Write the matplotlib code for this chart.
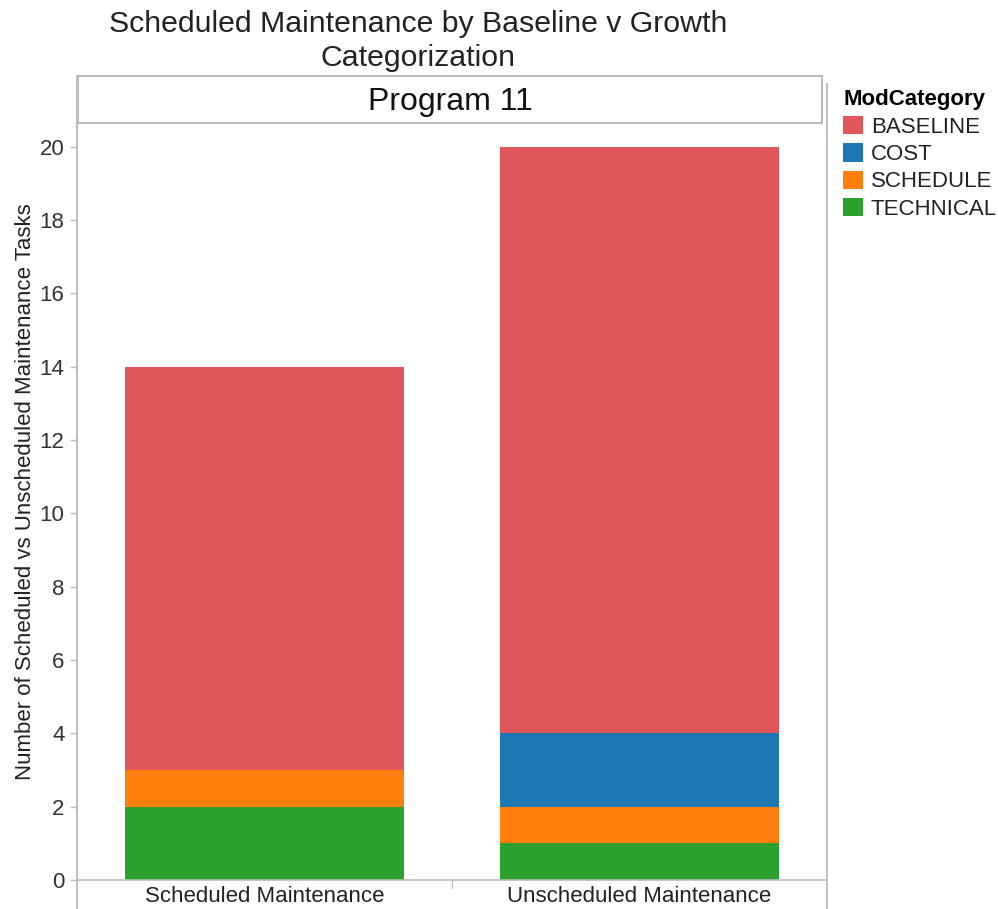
import matplotlib
matplotlib.use("Agg")
import matplotlib.pyplot as plt
from matplotlib.lines import Line2D
from matplotlib.patches import Patch

plt.rcParams['font.family'] = ['Liberation Sans', 'DejaVu Sans']

categories = ["Scheduled Maintenance", "Unscheduled Maintenance"]
mod_categories = ["BASELINE", "COST", "SCHEDULE", "TECHNICAL"]
stack_order = ["TECHNICAL", "SCHEDULE", "COST", "BASELINE"]
values = {
    "BASELINE": [11, 16],
    "COST": [0, 2],
    "SCHEDULE": [1, 1],
    "TECHNICAL": [2, 1],
}
colors = {
    "BASELINE": "#e15759",
    "COST": "#1f77b4",
    "SCHEDULE": "#ff7f0e",
    "TECHNICAL": "#2ca02c",
}
yticks = [0, 2, 4, 6, 8, 10, 12, 14, 16, 18, 20]

W, H = 998, 909
fig = plt.figure(figsize=(W / 100, H / 100), dpi=100)

def fx(px):
    return px / W

def fy(py):
    return 1 - py / H

ax_l, ax_r, ax_t, ax_b = 77, 827, 123, 880
ax = fig.add_axes([fx(ax_l), fy(ax_b), fx(ax_r) - fx(ax_l), fy(ax_t) - fy(ax_b)])

x = [0, 1]
bottom = [0, 0]
for cat in stack_order:
    vals = values[cat]
    ax.bar(x, vals, width=0.745, bottom=bottom, color=colors[cat], linewidth=0)
    bottom = [b + v for b, v in zip(bottom, vals)]

ax.set_xlim(-0.5, 1.5)
ax.set_ylim(0, 20.65)
ax.set_yticks(yticks)
ax.set_yticklabels([str(t) for t in yticks], fontsize=16, color="#333333")
ax.set_xticks([])
ax.tick_params(axis="y", length=5, color="#bbbbbb", width=1, pad=4)
for s in ["top", "right", "left"]:
    ax.spines[s].set_visible(False)
ax.spines["bottom"].set_color("#bbbbbb")
ax.spines["bottom"].set_linewidth(1.2)
ax.set_ylabel("Number of Scheduled vs Unscheduled Maintenance Tasks",
              fontsize=16, color="#222222")
ax.yaxis.set_label_coords(-0.054, 0.513)

# category labels under the axis
for xi, name in zip(x, categories):
    ax.text(xi, -0.008, name, transform=ax.get_xaxis_transform(),
            ha="center", va="top", fontsize=16, color="#222222")

# frame lines of the pane
gray = "#c0c0c0"
fig.add_artist(Line2D([fx(77), fx(77)], [fy(76), fy(909)], color=gray, lw=1.5))
fig.add_artist(Line2D([fx(827), fx(827)], [fy(84), fy(909)], color=gray, lw=1.5))
fig.add_artist(Line2D([fx(452), fx(452)], [fy(880), fy(888)], color=gray, lw=1))

# header box
hdr = fig.add_axes([fx(78), fy(123), fx(822) - fx(78), fy(76) - fy(123)])
hdr.set_xticks([])
hdr.set_yticks([])
for s in hdr.spines.values():
    s.set_color("#b5b5b5")
    s.set_linewidth(1.3)
hdr.text(0.5, 0.44, "Program 11", ha="center", va="center", fontsize=23,
         color="#111111", transform=hdr.transAxes)

fig.text(fx(418), fy(41), "Scheduled Maintenance by Baseline v Growth\nCategorization",
         ha="center", va="center", fontsize=21.8, color="#222222", linespacing=1.28)

handles = [Patch(facecolor=colors[c], edgecolor="none") for c in mod_categories]
leg = fig.legend(handles, mod_categories, loc="upper left",
                 bbox_to_anchor=(fx(832), fy(78)), frameon=False, fontsize=16,
                 title="ModCategory", title_fontproperties={"weight": "bold", "size": 16},
                 handlelength=0.9, handleheight=0.9, handletextpad=0.35,
                 labelspacing=0.25, borderpad=0, alignment="left")
for t in leg.get_texts():
    t.set_color("#222222")

fig.savefig("out.png", dpi=100)
